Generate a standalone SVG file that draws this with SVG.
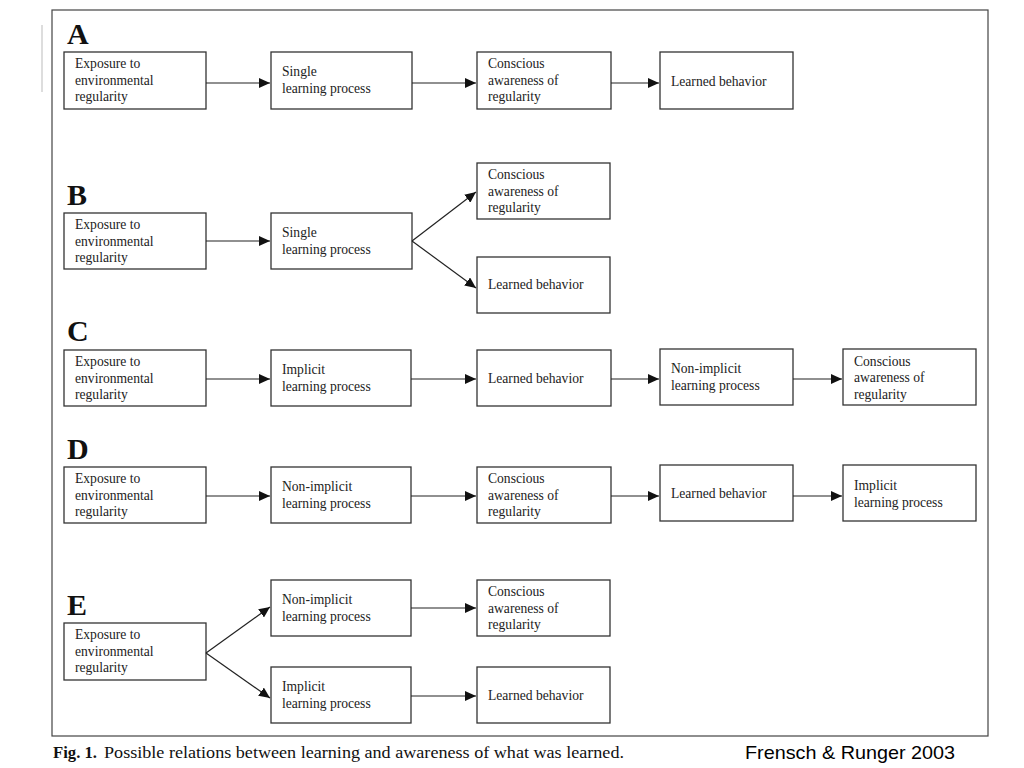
<svg xmlns="http://www.w3.org/2000/svg" width="1024" height="768" viewBox="0 0 1024 768">
<style>
.box{fill:#fff;stroke:#333;stroke-width:1.3}
.t{font-family:"Liberation Serif","Times New Roman",serif;font-size:13.6px;fill:#222}
.lab{font-family:"Liberation Serif","Times New Roman",serif;font-size:30px;font-weight:bold;fill:#111}
.c{stroke:#222;stroke-width:1.2;fill:none;marker-end:url(#ah)}
</style>
<defs>
<marker id="ah" markerUnits="userSpaceOnUse" markerWidth="11" markerHeight="10" refX="11" refY="5" orient="auto">
<path d="M0,0 L11,5 L0,10 z" fill="#111"/>
</marker>
</defs>
<rect width="1024" height="768" fill="#fff"/>
<rect x="52" y="10" width="936" height="726" fill="none" stroke="#444" stroke-width="1.2"/>
<line x1="42" y1="25" x2="42" y2="92" stroke="#bbb" stroke-width="1"/>

<text class="lab" x="67" y="44">A</text>
<text class="lab" x="67" y="205">B</text>
<text class="lab" x="67" y="341">C</text>
<text class="lab" x="67" y="459">D</text>
<text class="lab" x="67" y="615">E</text>

<!-- Panel A -->
<g id="a1"><rect class="box" x="64" y="52" width="142" height="57"/><text class="t" x="75" y="68">Exposure to</text><text class="t" x="75" y="85">environmental</text><text class="t" x="75" y="101">regularity</text></g>
<g id="a2"><rect class="box" x="271" y="52" width="141" height="57"/><text class="t" x="282" y="76">Single</text><text class="t" x="282" y="93">learning process</text></g>
<g id="a3"><rect class="box" x="477" y="52" width="134" height="57"/><text class="t" x="488" y="68">Conscious</text><text class="t" x="488" y="85">awareness of</text><text class="t" x="488" y="101">regularity</text></g>
<g id="a4"><rect class="box" x="660" y="52" width="133" height="57"/><text class="t" x="671" y="86">Learned behavior</text></g>

<!-- Panel B -->
<g id="b1"><rect class="box" x="64" y="213" width="142" height="56"/><text class="t" x="75" y="229">Exposure to</text><text class="t" x="75" y="246">environmental</text><text class="t" x="75" y="262">regularity</text></g>
<g id="b2"><rect class="box" x="271" y="213" width="141" height="56"/><text class="t" x="282" y="237">Single</text><text class="t" x="282" y="254">learning process</text></g>
<g id="b3"><rect class="box" x="477" y="163" width="133" height="56"/><text class="t" x="488" y="179">Conscious</text><text class="t" x="488" y="196">awareness of</text><text class="t" x="488" y="212">regularity</text></g>
<g id="b4"><rect class="box" x="477" y="257" width="133" height="56"/><text class="t" x="488" y="289">Learned behavior</text></g>

<!-- Panel C -->
<g id="c1"><rect class="box" x="64" y="350" width="142" height="56"/><text class="t" x="75" y="366">Exposure to</text><text class="t" x="75" y="383">environmental</text><text class="t" x="75" y="399">regularity</text></g>
<g id="c2"><rect class="box" x="271" y="350" width="140" height="56"/><text class="t" x="282" y="374">Implicit</text><text class="t" x="282" y="391">learning process</text></g>
<g id="c3"><rect class="box" x="477" y="350" width="134" height="56"/><text class="t" x="488" y="383">Learned behavior</text></g>
<g id="c4"><rect class="box" x="660" y="349" width="133" height="56"/><text class="t" x="671" y="373">Non-implicit</text><text class="t" x="671" y="390">learning process</text></g>
<g id="c5"><rect class="box" x="843" y="349" width="133" height="56"/><text class="t" x="854" y="366">Conscious</text><text class="t" x="854" y="382">awareness of</text><text class="t" x="854" y="399">regularity</text></g>

<!-- Panel D -->
<g id="d1"><rect class="box" x="64" y="467" width="142" height="56"/><text class="t" x="75" y="483">Exposure to</text><text class="t" x="75" y="500">environmental</text><text class="t" x="75" y="516">regularity</text></g>
<g id="d2"><rect class="box" x="271" y="467" width="140" height="56"/><text class="t" x="282" y="491">Non-implicit</text><text class="t" x="282" y="508">learning process</text></g>
<g id="d3"><rect class="box" x="477" y="467" width="134" height="56"/><text class="t" x="488" y="483">Conscious</text><text class="t" x="488" y="500">awareness of</text><text class="t" x="488" y="516">regularity</text></g>
<g id="d4"><rect class="box" x="660" y="465" width="133" height="56"/><text class="t" x="671" y="498">Learned behavior</text></g>
<g id="d5"><rect class="box" x="843" y="465" width="133" height="56"/><text class="t" x="854" y="490">Implicit</text><text class="t" x="854" y="507">learning process</text></g>

<!-- Panel E -->
<g id="e1"><rect class="box" x="64" y="623" width="142" height="57"/><text class="t" x="75" y="639">Exposure to</text><text class="t" x="75" y="656">environmental</text><text class="t" x="75" y="672">regularity</text></g>
<g id="e2"><rect class="box" x="271" y="580" width="140" height="56"/><text class="t" x="282" y="604">Non-implicit</text><text class="t" x="282" y="621">learning process</text></g>
<g id="e3"><rect class="box" x="271" y="667" width="140" height="56"/><text class="t" x="282" y="691">Implicit</text><text class="t" x="282" y="708">learning process</text></g>
<g id="e4"><rect class="box" x="477" y="580" width="133" height="56"/><text class="t" x="488" y="596">Conscious</text><text class="t" x="488" y="613">awareness of</text><text class="t" x="488" y="629">regularity</text></g>
<g id="e5"><rect class="box" x="477" y="667" width="133" height="56"/><text class="t" x="488" y="700">Learned behavior</text></g>

<g id="connectors">
<line class="c" x1="206" y1="83" x2="270" y2="83"/>
<line class="c" x1="412" y1="83" x2="476" y2="83"/>
<line class="c" x1="611" y1="83" x2="659" y2="83"/>

<line class="c" x1="206" y1="241" x2="270" y2="241"/>
<line class="c" x1="412" y1="241" x2="476" y2="192"/>
<line class="c" x1="412" y1="241" x2="476" y2="288"/>

<line class="c" x1="206" y1="379" x2="270" y2="379"/>
<line class="c" x1="411" y1="379" x2="476" y2="379"/>
<line class="c" x1="611" y1="379" x2="659" y2="379"/>
<line class="c" x1="793" y1="379" x2="842" y2="379"/>

<line class="c" x1="206" y1="496" x2="270" y2="496"/>
<line class="c" x1="411" y1="496" x2="476" y2="496"/>
<line class="c" x1="611" y1="496" x2="659" y2="496"/>
<line class="c" x1="793" y1="496" x2="842" y2="496"/>

<line class="c" x1="206" y1="653" x2="270" y2="607"/>
<line class="c" x1="206" y1="653" x2="270" y2="698"/>
<line class="c" x1="411" y1="608" x2="476" y2="608"/>
<line class="c" x1="411" y1="696" x2="476" y2="696"/>
</g>

<text x="53" y="758" font-family="Liberation Serif, Times New Roman, serif" font-size="16" fill="#111" font-weight="bold" textLength="44" lengthAdjust="spacingAndGlyphs">Fig. 1.</text>
<text x="104" y="758" font-family="Liberation Serif, Times New Roman, serif" font-size="16" fill="#111" textLength="520" lengthAdjust="spacingAndGlyphs">Possible relations between learning and awareness of what was learned.</text>
<text x="745" y="759" font-family="Liberation Sans, Arial, sans-serif" font-size="19" fill="#000" textLength="210" lengthAdjust="spacingAndGlyphs">Frensch &amp; Runger 2003</text>
</svg>
